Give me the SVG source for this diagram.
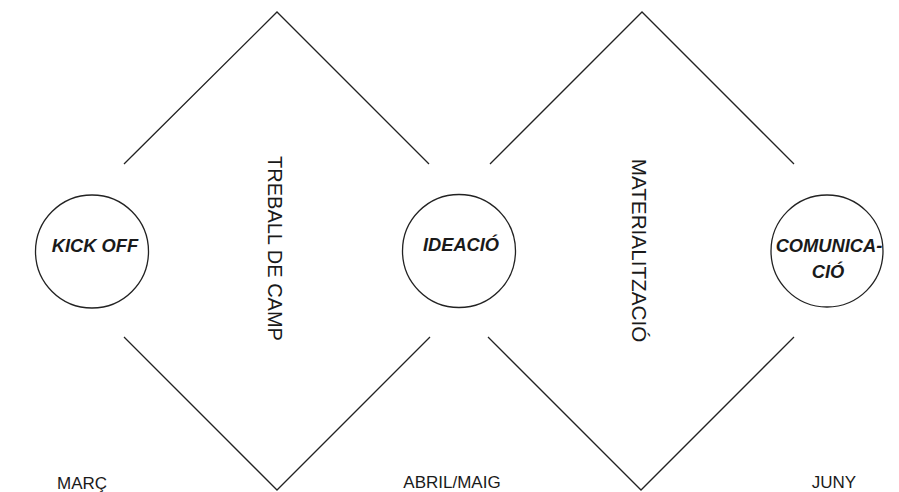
<svg xmlns="http://www.w3.org/2000/svg" width="899" height="492" viewBox="0 0 899 492">
<style>
.ln{fill:none;stroke:#222;stroke-width:1.3;stroke-linecap:butt;stroke-linejoin:miter}
.cir{fill:#fff;stroke:#222;stroke-width:1.3}
.node{font-family:"Liberation Sans",Arial,sans-serif;font-size:18.3px;font-weight:bold;font-style:italic;fill:#1a1a1a;text-anchor:middle}
.phase{font-family:"Liberation Sans",Arial,sans-serif;font-size:20px;fill:#1a1a1a;text-anchor:middle}
.month{font-family:"Liberation Sans",Arial,sans-serif;font-size:17px;fill:#1a1a1a;text-anchor:middle}
</style>
<rect width="899" height="492" fill="#fff"/>
<g id="connectors">
<polyline class="ln" points="124,164 277,12 429,164"/>
<polyline class="ln" points="124,337 277,490 430,337"/>
<polyline class="ln" points="490,164 642,12 794,164"/>
<polyline class="ln" points="488,337 641,490 794,337"/>
</g>
<g id="kickoff">
<circle class="cir" cx="92" cy="251.5" r="56.5"/>
<text class="node" x="95" y="252">KICK OFF</text>
</g>
<g id="ideacio">
<circle class="cir" cx="459" cy="251" r="56.5"/>
<text class="node" x="461" y="251">IDEACIÓ</text>
</g>
<g id="comunicacio">
<circle class="cir" cx="827" cy="251" r="56"/>
<text class="node" x="829" y="252">COMUNICA-</text>
<text class="node" x="828" y="278">CIÓ</text>
</g>
<g id="treball">
<text class="phase" transform="translate(268,248.5) rotate(90)">TREBALL DE CAMP</text>
</g>
<g id="materialitzacio">
<text class="phase" style="font-size:20.7px" transform="translate(632,250.5) rotate(90)">MATERIALITZACIÓ</text>
</g>
<g id="marc"><text class="month" x="82" y="489">MARÇ</text></g>
<g id="abril"><text class="month" x="452" y="488">ABRIL/MAIG</text></g>
<g id="juny"><text class="month" x="834" y="488">JUNY</text></g>
</svg>
